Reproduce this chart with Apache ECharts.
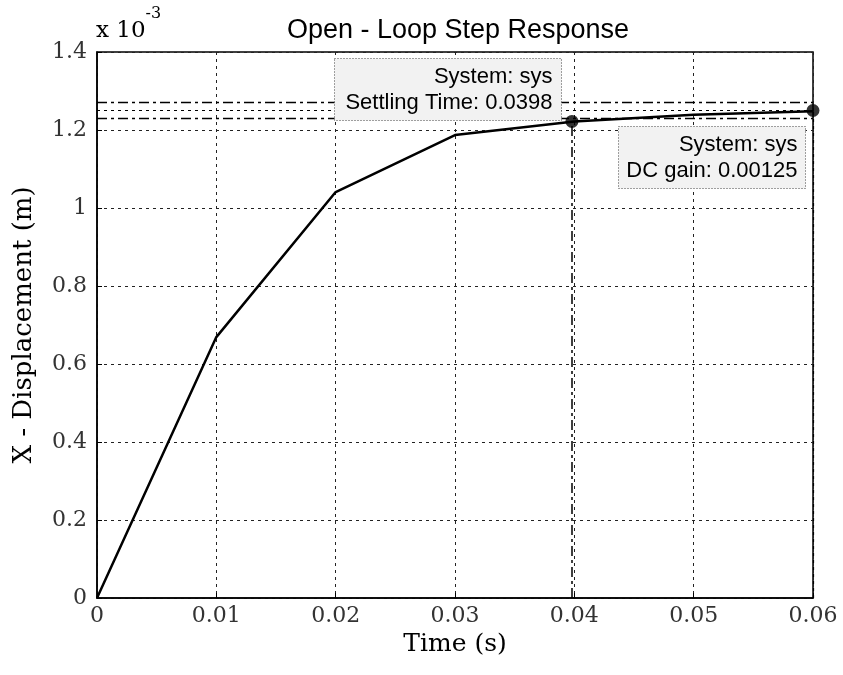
<!DOCTYPE html>
<html>
<head>
<meta charset="utf-8">
<script src="https://cdn.jsdelivr.net/npm/echarts@6/dist/echarts.min.js"></script>
<style>
  html, body { margin: 0; padding: 0; background: #fff; }
  #chart { width: 843px; height: 675px; }
</style>
</head>
<body>
<div id="chart"></div>
<script>
// step response samples, displacement in units of 10^-3 m
var time = [0, 0.01, 0.02, 0.03, 0.04, 0.05, 0.06];
var disp = [0, 0.669, 1.041, 1.187, 1.222, 1.239, 1.248];

var settlingTime = 0.0398;
var settlingValue = 1.222;
var dcGain = 1.25;
var settleBand = [1.225, 1.275];   // +/- 2% of final value
var xTicks = ['0', '0.01', '0.02', '0.03', '0.04', '0.05', '0.06'];

var chart = echarts.init(document.getElementById('chart'));

var serif = '"DejaVu Serif", "Liberation Serif", serif';
var sans = '"Liberation Sans", Arial, sans-serif';
var dashDot = [10, 4, 3, 4];
var dotted = [3, 4];

var curve = time.map(function (t, i) { return [t, disp[i]]; });

chart.setOption({
    animation: false,
    backgroundColor: '#fff',
    title: {
        text: 'Open - Loop Step Response',
        left: 453,
        textAlign: 'center',
        top: 12,
        textStyle: { fontFamily: sans, fontSize: 27, fontWeight: 'normal', color: '#000' }
    },
    grid: {
        left: 97, right: 30, top: 52, bottom: 77,
        show: true, borderColor: '#000', borderWidth: 1.5
    },
    xAxis: {
        type: 'value',
        min: 0, max: 0.06, interval: 0.01,
        name: 'Time (s)',
        nameLocation: 'middle',
        nameGap: 30,
        nameTextStyle: { fontFamily: serif, fontSize: 25, color: '#000' },
        axisLine: { lineStyle: { color: '#000', width: 1.5 } },
        axisTick: { inside: true, length: 5, lineStyle: { color: '#000' } },
        axisLabel: {
            margin: 7,
            fontFamily: serif, fontSize: 22, color: '#333',
            formatter: function (v) { return xTicks[Math.round(v * 100)]; }
        },
        splitLine: { lineStyle: { color: '#222', type: dotted, width: 1 } }
    },
    yAxis: {
        type: 'value',
        min: 0, max: 1.4, interval: 0.2,
        name: 'X - Displacement (m)',
        nameLocation: 'middle',
        nameGap: 60,
        nameTextStyle: { fontFamily: serif, fontSize: 26, color: '#000' },
        axisLine: { show: true, lineStyle: { color: '#000', width: 1.5 } },
        axisTick: { show: true, inside: true, length: 5, lineStyle: { color: '#000' } },
        axisLabel: {
            margin: 10,
            fontFamily: serif, fontSize: 22, color: '#333',
            formatter: function (v) { return String(+v.toFixed(1)); }
        },
        splitLine: { lineStyle: { color: '#222', type: dotted, width: 1 } }
    },
    series: [
        {
            type: 'line',
            data: curve,
            showSymbol: false,
            lineStyle: { color: '#000', width: 2.5 },
            z: 3,
            markLine: {
                silent: true,
                symbol: 'none',
                label: { show: false },
                animation: false,
                data: [
                    { yAxis: settleBand[0], lineStyle: { color: '#000', width: 1.3, type: dashDot } },
                    { yAxis: settleBand[1], lineStyle: { color: '#000', width: 1.3, type: dashDot } },
                    { yAxis: dcGain, lineStyle: { color: '#000', width: 1.2, type: dotted } },
                    [
                        { coord: [settlingTime, 0], lineStyle: { color: '#000', width: 1.5, type: dashDot } },
                        { coord: [settlingTime, settlingValue] }
                    ],
                    [
                        { coord: [time[time.length - 1], 0], lineStyle: { color: '#000', width: 1.2, type: dotted } },
                        { coord: [time[time.length - 1], dcGain] }
                    ]
                ]
            }
        },
        {
            type: 'scatter',
            data: [[settlingTime, settlingValue], [time[time.length - 1], dcGain]],
            symbol: 'circle',
            symbolSize: 13,
            itemStyle: { color: '#000' },
            z: 4
        }
    ],
    graphic: [
        {
            type: 'text',
            left: 96, top: 6,
            z: 100,
            style: {
                text: '{b|x 10}{s|-3}',
                rich: {
                    b: { fontFamily: serif, fontSize: 23, color: '#000', padding: [14, 0, 0, 0] },
                    s: { fontFamily: serif, fontSize: 16, color: '#000', verticalAlign: 'top' }
                }
            }
        },
        {
            type: 'group', left: 334, top: 58,
            children: [
                {
                    type: 'rect', z: 100,
                    shape: { x: 0, y: 0, width: 227, height: 62 },
                    style: { fill: '#f2f2f2', stroke: '#444', lineWidth: 1, lineDash: [1, 2] }
                },
                {
                    type: 'text', x: 218, y: 5, z: 101,
                    style: {
                        text: 'System: sys\nSettling Time: 0.0398',
                        align: 'right', lineHeight: 26,
                        font: '22px ' + sans, fill: '#000'
                    }
                }
            ]
        },
        {
            type: 'group', left: 618, top: 126,
            children: [
                {
                    type: 'rect', z: 100,
                    shape: { x: 0, y: 0, width: 187, height: 62 },
                    style: { fill: '#f2f2f2', stroke: '#444', lineWidth: 1, lineDash: [1, 2] }
                },
                {
                    type: 'text', x: 179, y: 5, z: 101,
                    style: {
                        text: 'System: sys\nDC gain: 0.00125',
                        align: 'right', lineHeight: 26,
                        font: '22px ' + sans, fill: '#000'
                    }
                }
            ]
        }
    ]
});
</script>
</body>
</html>
